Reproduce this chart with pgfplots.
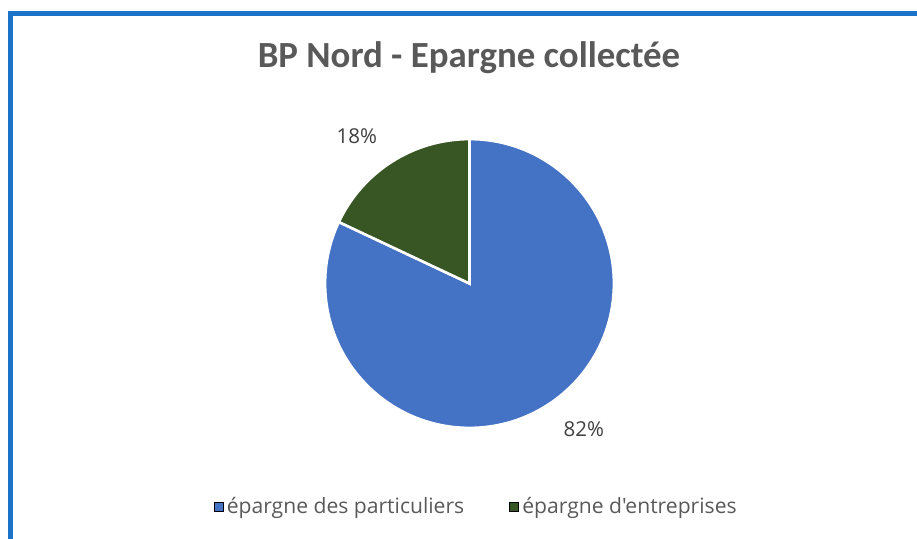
\documentclass[border=0pt]{standalone}
\usepackage{pgfplots}
\pgfplotsset{compat=1.18}
\usepackage{fontspec}
\setmainfont{Open Sans}[Ligatures=TeXOff]
\newfontfamily\titlefont{Carlito}
\definecolor{pblue}{HTML}{4472C4}
\definecolor{pgreen}{HTML}{375623}
\definecolor{frameblue}{HTML}{1B74C9}
\definecolor{txtgray}{HTML}{595959}
\definecolor{lblgray}{HTML}{404040}

% one slice per series: start (in %), value (in %), label angle
\pgfplotsset{
  pie slice/.style={
    scatter, only marks,
    mark size=0pt,
    scatter/use mapped color={draw=none, fill=none},
    visualization depends on={\thisrow{start}\as\start},
    visualization depends on={\thisrow{value}\as\val},
    visualization depends on={\thisrow{lab}\as\lab},
    scatter/@pre marker code/.code={
      \pgfkeys{/pgf/fpu=true, /pgf/fpu/output format=fixed}
      \pgfmathsetmacro\sa{90-3.6*\start}
      \pgfmathsetmacro\ea{90-3.6*(\start+\val)}
      \pgfmathsetmacro\la{\lab}
      \pgfmathsetmacro\pc{round(\val)}
      \pgfkeys{/pgf/fpu=false}
      \fill[fill=#1, draw=white, line width=1.3bp]
        (0bp,0bp) -- (\sa:72.2bp) arc[start angle=\sa, end angle=\ea, radius=72.2bp] -- cycle;
      \node[text=lblgray, font=\fontsize{10.3}{12}\selectfont, inner sep=0pt]
        at (\la:92.7bp) {\pgfmathprintnumber[fixed,precision=0,assume math mode=true]{\pc}\%};
    },
    scatter/@post marker code/.code={},
    legend image code/.code={
      \fill[fill=#1] (0bp,-2.3bp) rectangle (4.6bp,2.3bp);
    },
  },
}

\begin{document}
\begin{tikzpicture}
\path[use as bounding box] (0,0) rectangle (458.5bp,269.5bp);
\draw[frameblue, line width=2.2bp] (5.25bp,0) -- (5.25bp,262.75bp) -- (458.5bp,262.75bp);
\node[anchor=base, text=txtgray, font=\titlefont\bfseries\fontsize{18.5}{21}\selectfont]
  at (234.5bp,235.5bp) {BP Nord - Epargne collectée};
\begin{axis}[
  at={(234.75bp,127.75bp)}, anchor=center,
  scale only axis, width=144.4bp, height=144.4bp,
  xmin=-1, xmax=1, ymin=-1, ymax=1,
  hide axis,
  clip=false,
  legend columns=2,
  legend style={at={(0.525,-0.274)}, anchor=center, draw=none, fill=none,
    font=\fontsize{10.6}{12}\selectfont, text=txtgray,
    nodes={inner xsep=1.5bp},
    /tikz/every even column/.append style={column sep=21bp}},
  legend cell align=left,
]
\addplot[pie slice=pblue] table[x expr=0, y expr=0] {
start value lab
0 82 -51.9
};
\addplot[pie slice=pgreen] table[x expr=0, y expr=0] {
start value lab
82 18 127.4
};
\legend{épargne des particuliers, épargne d'entreprises}
\end{axis}
\end{tikzpicture}
\end{document}
